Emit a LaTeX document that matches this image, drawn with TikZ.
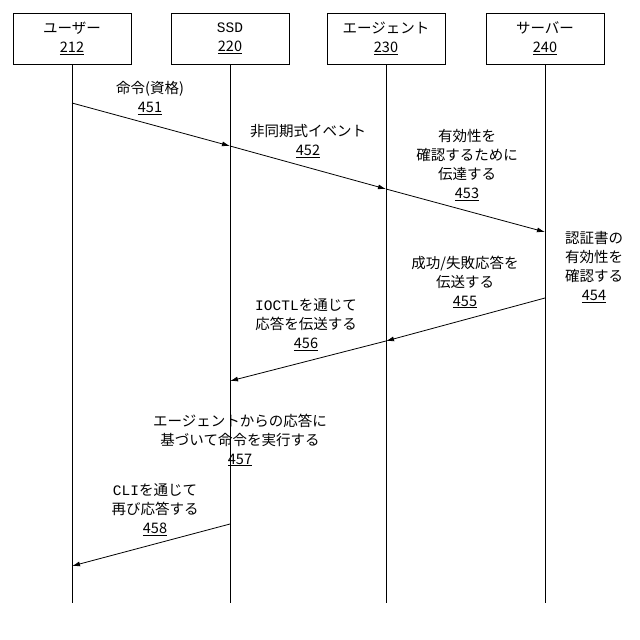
\documentclass[tikz,border=0pt]{standalone}
\usepackage{fontspec}
\usetikzlibrary{arrows.meta}
\setmainfont{Noto Sans CJK JP}
\newfontfamily\lat{Liberation Mono}
\begin{document}
\begin{tikzpicture}[x=1pt,y=-1pt,
  box/.style={draw,line width=0.8pt,minimum width=118pt,minimum height=51pt,align=center,inner sep=1pt,font=\fontsize{14.5}{19}\selectfont},
  lbl/.style={align=center,font=\fontsize{14.5}{19}\selectfont,inner sep=1pt},
  msg/.style={-{Latex[length=8pt,width=5pt]},line width=0.8pt},
  life/.style={line width=0.8pt}]
\useasboundingbox (0,0) rectangle (640,640);
\node[box] (u) at (72,38.5) {ユーザー\\\underline{212}};
\node[box] (s) at (230,38.5) {{\lat SSD}\\\underline{220}};
\node[box] (a) at (386,38.5) {エージェント\\\underline{230}};
\node[box] (v) at (545,38.5) {サーバー\\\underline{240}};
\coordinate (ue) at (72,603); \coordinate (se) at (230,603);
\coordinate (ae) at (386,603); \coordinate (ve) at (545,603);
\draw[life] (u.south) -- (ue); \draw[life] (s.south) -- (se);
\draw[life] (a.south) -- (ae); \draw[life] (v.south) -- (ve);
\coordinate (p1) at (72,103); \coordinate (p2) at (230,146);
\coordinate (p3) at (386,189); \coordinate (p4) at (545,232);
\coordinate (p5) at (545,298); \coordinate (p6) at (386,341);
\coordinate (p7) at (230,381); \coordinate (p8) at (230,524);
\coordinate (p9) at (72,566);
\draw[msg] (p1) -- (p2); \draw[msg] (p2) -- (p3); \draw[msg] (p3) -- (p4);
\draw[msg] (p5) -- (p6); \draw[msg] (p6) -- (p7); \draw[msg] (p8) -- (p9);
\node[lbl] (l1) at (150,98) {命令(資格)\\\underline{451}};
\node[lbl] (l2) at (308,141) {非同期式イベント\\\underline{452}};
\node[lbl] (l3) at (467,165) {有効性を\\確認するために\\伝達する\\\underline{453}};
\node[lbl] (l4) at (594,267) {認証書の\\有効性を\\確認する\\\underline{454}};
\node[lbl] (l5) at (465,282) {成功/失敗応答を\\伝送する\\\underline{455}};
\node[lbl] (l6) at (306,325) {{\lat IOCTL}を通じて\\応答を伝送する\\\underline{456}};
\node[lbl] (l7) at (240,440) {エージェントからの応答に\\基づいて命令を実行する\\\underline{457}};
\node[lbl] (l8) at (155,510) {{\lat CLI}を通じて\\再び応答する\\\underline{458}};
\end{tikzpicture}
\end{document}
